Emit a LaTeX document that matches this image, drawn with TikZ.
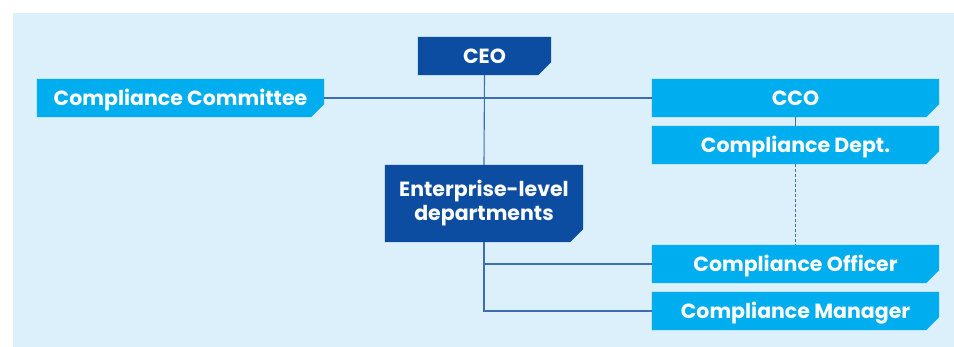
\documentclass[tikz,border=0pt]{standalone}
\usepackage{fontspec}
\setmainfont{Poppins}
\usetikzlibrary{backgrounds}
\definecolor{bgblue}{HTML}{DCF0FB}
\definecolor{darkbox}{HTML}{0C4DA2}
\definecolor{lightbox}{HTML}{00AEEF}
\definecolor{linecol}{HTML}{3F6DB3}
\tikzset{
  box/.style={rectangle, inner sep=0pt, minimum height=38pt, text=white,
    text height=14.3pt, text depth=0pt,
    font=\fontsize{20.5}{24}\selectfont\bfseries},
  conn/.style={draw=linecol, line width=1.1pt},
  dots/.style={draw=linecol, line width=1.1pt, dash pattern=on 2.5pt off 2.5pt}
}
\newcommand{\chbox}[2]{\fill[#2] (#1.north west) -- (#1.north east) -- ([yshift=13pt]#1.south east) -- ([xshift=-13pt]#1.south east) -- (#1.south west) -- cycle;}
\begin{document}
\begin{tikzpicture}[x=1pt,y=-1pt]
\useasboundingbox (0,0) rectangle (954,347);
\node[box, minimum width=133pt] (ceo) at (484.5,56) {CEO};
\node[box, minimum width=287pt] (comm) at (180.5,98) {Compliance Committee};
\node[box, minimum width=287pt] (cco) at (795.5,98) {CCO};
\node[box, minimum width=287pt] (dept) at (795.5,145) {Compliance Dept.};
\node[box, minimum width=198pt, minimum height=77pt, text height=, text depth=, align=center, font=\fontsize{20.5}{24}\selectfont\bfseries] (ent) at (484,203.5) {Enterprise-level\\departments};
\node[box, minimum width=287pt] (off) at (795.5,264) {Compliance Officer};
\node[box, minimum width=287pt] (man) at (795.5,311) {Compliance Manager};
\begin{pgfonlayer}{background}
\fill[bgblue] (13,13) rectangle (954,347);
\chbox{ceo}{darkbox}
\chbox{ent}{darkbox}
\chbox{comm}{lightbox}
\chbox{cco}{lightbox}
\chbox{dept}{lightbox}
\chbox{off}{lightbox}
\chbox{man}{lightbox}
\end{pgfonlayer}
\draw[conn] (comm.east) -- (cco.west);
\draw[conn] (ceo.south) -- (ent.north);
\draw[conn] (cco.south) -- (dept.north);
\draw[dots] (dept.south) -- (off.north);
\draw[conn] (ent.south) |- (off.west);
\draw[conn] (ent.south) |- (man.west);
\end{tikzpicture}
\end{document}
